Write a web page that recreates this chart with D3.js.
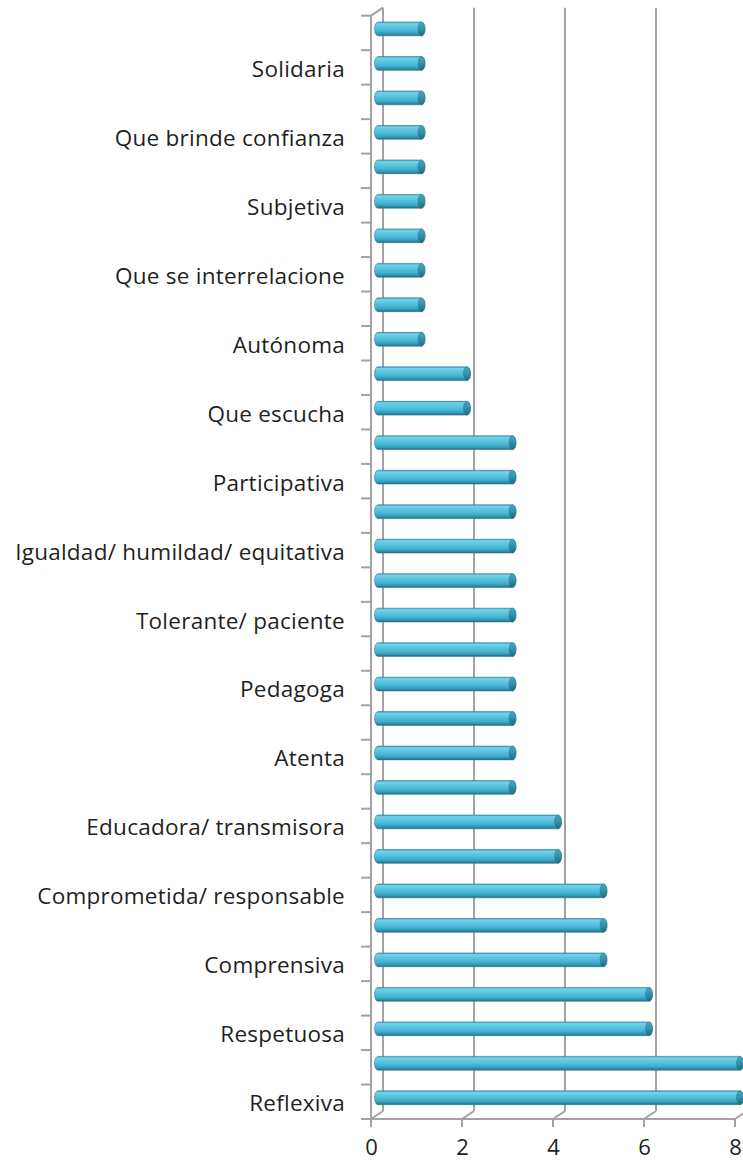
<!DOCTYPE html>
<html>
<head>
<meta charset="utf-8">
<script src="https://cdn.jsdelivr.net/npm/d3@7"></script>
<style>
  html, body { margin: 0; padding: 0; background: #ffffff; }
  svg { display: block; }
  text { font-family: "Open Sans", "Liberation Sans", sans-serif; fill: #1f1f1f; }
</style>
</head>
<body>
<script>
// Categories from bottom to top ("" = category whose label is skipped on the axis)
const categories = [
  "Reflexiva", "", "Respetuosa", "", "Comprensiva", "", "Comprometida/ responsable", "",
  "Educadora/ transmisora", "", "Atenta", "", "Pedagoga", "", "Tolerante/ paciente", "",
  "Igualdad/ humildad/ equitativa", "", "Participativa", "", "Que escucha", "", "Autónoma", "",
  "Que se interrelacione", "", "Subjetiva", "", "Que brinde confianza", "", "Solidaria", ""
];
const values = [
  8, 8, 6, 6, 5, 5, 5, 4,
  4, 3, 3, 3, 3, 3, 3, 3,
  3, 3, 3, 3, 2, 2, 1, 1,
  1, 1, 1, 1, 1, 1, 1, 1
];
const xTicks = [0, 2, 4, 6, 8];

const W = 743, H = 1166;
const svg = d3.select("body").append("svg").attr("width", W).attr("height", H);

// front plane geometry
const x = d3.scaleLinear().domain([0, 8]).range([371, 735]);
const idx = d3.range(categories.length);
const y = d3.scaleBand().domain(idx).range([1119, 15.7]).paddingInner(0).paddingOuter(0);
const DX = 12, DY = -8;            // depth offset of the back wall
const MX = DX / 2, MY = DY / 2;    // bars sit at mid depth

const gridColor = "#a3a3a3";
const grid = svg.append("g").attr("stroke", gridColor).attr("stroke-width", 2).attr("fill", "none");

const yTop = y.range()[1], yBot = y.range()[0];

// back wall gridlines (vertical) and floor diagonals
xTicks.forEach(t => {
  const fx = x(t);
  grid.append("line").attr("x1", fx + DX).attr("x2", fx + DX)
    .attr("y1", yTop + DY).attr("y2", yBot + DY);
  grid.append("line").attr("x1", fx).attr("x2", fx + DX)
    .attr("y1", yBot).attr("y2", yBot + DY);
});
// front left axis line + top diagonal
grid.append("line").attr("x1", x(0)).attr("x2", x(0)).attr("y1", yTop).attr("y2", yBot);
grid.append("line").attr("x1", x(0)).attr("x2", x(0) + DX).attr("y1", yTop).attr("y2", yTop + DY);
// front floor line
grid.append("line").attr("x1", x(0)).attr("x2", x(8)).attr("y1", yBot).attr("y2", yBot);

// category boundary ticks
const bounds = idx.map(i => y(i)).concat([y(0) + y.bandwidth()]);
bounds.forEach(b => {
  grid.append("line").attr("x1", x(0) - 10).attr("x2", x(0)).attr("y1", b).attr("y2", b);
});
// value ticks
xTicks.forEach(t => {
  grid.append("line").attr("x1", x(t)).attr("x2", x(t)).attr("y1", yBot).attr("y2", yBot + 8);
});

// gradients
const defs = svg.append("defs");
const gBody = defs.append("linearGradient").attr("id", "body").attr("x1", 0).attr("x2", 0).attr("y1", 0).attr("y2", 1);
[[0, "#3f9fb9"], [0.12, "#73d2ea"], [0.35, "#5cc6e2"], [0.65, "#46b3d2"], [0.85, "#3497b4"], [1, "#1f6b80"]]
  .forEach(([o, c]) => gBody.append("stop").attr("offset", o).attr("stop-color", c));
const gCap = defs.append("linearGradient").attr("id", "cap").attr("x1", 0).attr("x2", 0).attr("y1", 0).attr("y2", 1);
[[0, "#4aa5bf"], [0.4, "#3896b0"], [1, "#22697c"]]
  .forEach(([o, c]) => gCap.append("stop").attr("offset", o).attr("stop-color", c));

// bars (cylinders)
const bh = y.bandwidth() * 0.4;
const rx = 3.5;
const bars = svg.append("g");
idx.forEach(i => {
  const cy = y(i) + y.bandwidth() / 2 + MY;
  const x0 = x(0) + MX + 1, x1 = x(values[i]) + MX - 1;
  const t = cy - bh / 2, b = cy + bh / 2, r = bh / 2;
  const p = `M${x0},${t} L${x1},${t} A${rx},${r} 0 0 1 ${x1},${b} L${x0},${b} A${rx},${r} 0 0 1 ${x0},${t} Z`;
  bars.append("path").attr("d", p).attr("fill", "url(#body)")
    .attr("stroke", "#2c7f96").attr("stroke-width", 0.6);
  bars.append("ellipse").attr("cx", x1).attr("cy", cy).attr("rx", rx).attr("ry", r)
    .attr("fill", "url(#cap)").attr("stroke", "#2a7a90").attr("stroke-width", 0.5);
});

// category labels (left axis)
const yAxis = d3.axisLeft(y).tickSize(0).tickPadding(0)
  .tickFormat(i => categories[i]);
const ya = svg.append("g").attr("transform", `translate(${x(0) - 26},0)`).call(yAxis);
ya.select(".domain").remove();
ya.selectAll("text").attr("font-size", 22.5).attr("dy", "0.42em")
  .attr("letter-spacing", "0.25px")
  .style("font-family", "'Open Sans', sans-serif").attr("fill", "#1f1f1f");

// value labels (bottom axis)
const xAxis = d3.axisBottom(x).tickValues(xTicks).tickSize(0).tickPadding(0).tickFormat(d3.format("d"));
const xa = svg.append("g").attr("transform", `translate(0,${yBot + 20})`).call(xAxis);
xa.select(".domain").remove();
xa.selectAll("text").attr("font-size", 22).attr("dy", "0.72em")
  .style("font-family", "'Open Sans', sans-serif").attr("fill", "#1f1f1f");
</script>
</body>
</html>
